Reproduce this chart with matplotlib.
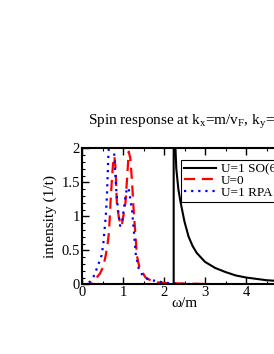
import matplotlib
matplotlib.use("Agg")
import matplotlib.pyplot as plt
from matplotlib.ticker import MultipleLocator

plt.rcParams['font.family'] = ['Liberation Serif', 'DejaVu Serif']
plt.rcParams['mathtext.fontset'] = 'custom'
plt.rcParams['mathtext.rm'] = 'Liberation Serif'
plt.rcParams['mathtext.it'] = 'Liberation Serif'

# U=1 SO(6)
so6_w = [0.0, 2.236, 2.236, 2.26, 2.3, 2.35, 2.4, 2.5, 2.6, 2.7, 2.8, 3.0, 3.25, 3.5, 3.75, 4.0, 4.5, 5.0]
so6_y = [0.0, 0.0, 3.0, 2.3, 1.7, 1.4, 1.22, 0.92, 0.7, 0.56, 0.46, 0.33, 0.24, 0.18, 0.13, 0.10, 0.06, 0.04]

# U=0
u0_w = [0.0, 0.1, 0.24, 0.36, 0.44, 0.52, 0.57, 0.61, 0.65, 0.67, 0.70, 0.73, 0.76, 0.79, 0.82, 0.85,
        0.90, 0.95, 0.98, 1.02, 1.06, 1.10, 1.14, 1.18, 1.22, 1.26, 1.30, 1.34, 1.40, 1.47, 1.55,
        1.67, 1.83, 2.0, 2.5, 3.0]
u0_y = [0.0, 0.003, 0.01, 0.1, 0.16, 0.26, 0.4, 0.53, 0.72, 0.9, 1.25, 1.55, 1.8, 1.88, 1.7, 1.2,
        0.98, 0.86, 0.9, 1.05, 1.2, 1.56, 1.95, 1.85, 1.51, 1.09, 0.75, 0.42, 0.25, 0.18, 0.1,
        0.06, 0.03, 0.02, 0.01, 0.005]

# U=1 RPA
rpa_w = [0.0, 0.1, 0.2, 0.28, 0.38, 0.48, 0.52, 0.55, 0.58, 0.60, 0.62, 0.64, 0.67, 0.70, 0.74, 0.77,
         0.80, 0.84, 0.89, 0.93, 0.97, 1.02, 1.06, 1.10, 1.14, 1.18, 1.22, 1.27, 1.31, 1.38, 1.45,
         1.51, 1.59, 1.70, 1.79, 1.96, 2.2, 2.6, 3.0]
rpa_y = [0.0, 0.01, 0.04, 0.11, 0.26, 0.43, 0.6, 0.8, 1.0, 1.2, 1.5, 1.85, 2.2, 2.4, 2.4, 2.1,
         1.75, 1.35, 1.02, 0.86, 0.9, 1.1, 1.29, 1.42, 1.4, 1.25, 1.09, 0.75, 0.45, 0.24, 0.16,
         0.11, 0.08, 0.06, 0.05, 0.03, 0.01, 0.005, 0.003]

labels = ["U=1 SO(6)", "U=0", "U=1 RPA"]
title = "Spin response at k$_x$=m/v$_F$, k$_y$=0"

W, H = 274, 354
fig = plt.figure(figsize=(W / 100, H / 100), dpi=100)
ax = fig.add_axes([82 / W, (H - 284.3) / H, 205 / W, 136 / H])

ax.plot(so6_w, so6_y, color='black', lw=1.5, label=labels[0])
ax.plot(u0_w, u0_y, color='red', lw=1.6, ls=(0, (5, 3)), label=labels[1])
ax.plot(rpa_w, rpa_y, color='blue', lw=1.6, ls=(0, (1, 2.2)), label=labels[2])

ax.set_xlim(0, 5)
ax.set_ylim(0, 2)
ax.xaxis.set_major_locator(MultipleLocator(1))
ax.xaxis.set_minor_locator(MultipleLocator(0.5))
ax.yaxis.set_minor_locator(MultipleLocator(0.1))
ax.set_yticks([0, 0.5, 1, 1.5, 2])
ax.set_yticklabels(['0', '0.5', '1', '1.5', '2'])
ax.tick_params(which='both', direction='in', top=True, right=True, labelsize=10.5, pad=1.5)
ax.tick_params(which='major', length=5, width=1)
ax.tick_params(which='minor', length=2.5, width=0.8)
for s in ax.spines.values():
    s.set_linewidth(1.5)

ax.set_xlabel("ω/m", fontsize=11)
ax.set_ylabel("intensity (1/t)", fontsize=11)
ax.xaxis.set_label_coords(0.5, (284.3 - 297) / 136)
ax.yaxis.set_label_coords((57 - 82) / 205, 0.5)

fig.text(88 / W, (H - 125) / H, title, fontsize=11, ha='left', va='baseline')

leg = ax.legend(loc='upper left', bbox_to_anchor=((181 - 82) / 205, (284.3 - 160) / 136),
                borderaxespad=0, fontsize=9.5, labelspacing=-0.05, handlelength=2.4,
                handletextpad=0.35, borderpad=0.25, fancybox=False, edgecolor='black',
                framealpha=1)
leg.get_frame().set_linewidth(0.8)

fig.savefig("out.png", dpi=100)
